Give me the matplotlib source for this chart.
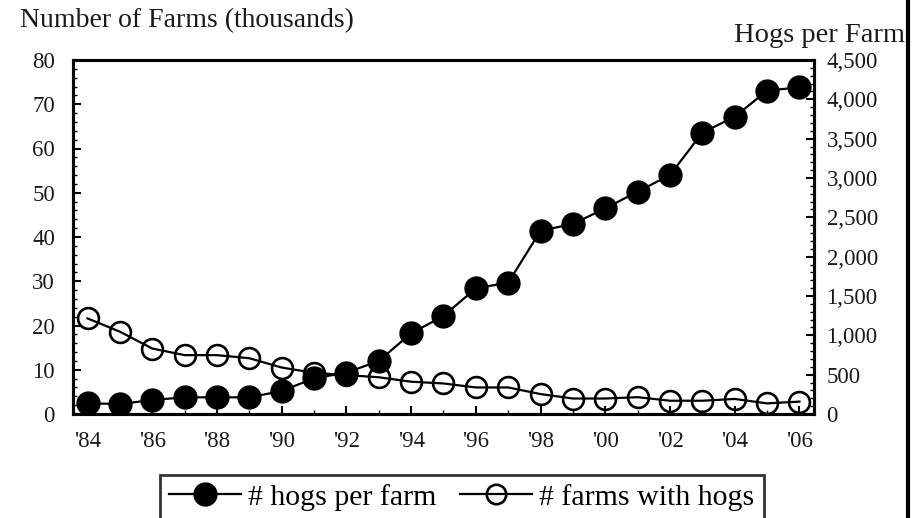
import matplotlib
matplotlib.use("Agg")
from matplotlib import pyplot as plt
from matplotlib.lines import Line2D
from matplotlib.ticker import MultipleLocator, FixedLocator

plt.rcParams['font.family'] = ['Liberation Serif', 'DejaVu Serif']

# data
years = [1984, 1985, 1986, 1987, 1988, 1989, 1990, 1991, 1992, 1993, 1994,
         1995, 1996, 1997, 1998, 1999, 2000, 2001, 2002, 2003, 2004, 2005, 2006]
hogs_per_farm = [136, 127, 178, 212, 212, 212, 292, 454, 525, 674, 1026,
                 1246, 1598, 1669, 2330, 2415, 2615, 2826, 3038, 3576, 3779, 4110, 4153]
farms_thousands = [21.6, 18.6, 14.8, 13.3, 13.3, 12.6, 10.5, 9.3, 8.8, 8.3, 7.3,
                   6.9, 6.0, 6.0, 4.5, 3.5, 3.5, 3.8, 3.0, 3.0, 3.4, 2.4, 2.8]
xtick_years = list(range(1984, 2007, 2))
xtick_labels = ["'84", "'86", "'88", "'90", "'92", "'94", "'96", "'98", "'00", "'02", "'04", "'06"]

W, H = 919, 518
fig = plt.figure(figsize=(W / 100, H / 100), dpi=100)
fig.patch.set_facecolor('white')

ax = fig.add_axes([73 / W, 1 - 414 / H, (814 - 73) / W, (414 - 60) / H])
ax2 = ax.twinx()

# farms with hogs (left axis), open circles the line runs through
ax.plot(years, farms_thousands, color='black', lw=1.6, marker='o', ms=15,
        mfc='none', mec='black', mew=1.9, zorder=3)
# hogs per farm (right axis)
ax2.plot(years, hogs_per_farm, color='black', lw=1.6, marker='o', ms=16.5,
         mfc='black', mec='black', zorder=3)

ax.set_xlim(1983.55, 2006.45)
ax.set_ylim(0, 80)
ax2.set_ylim(0, 4500)

ax.xaxis.set_major_locator(FixedLocator(xtick_years))
ax.set_xticklabels(xtick_labels)
ax.xaxis.set_minor_locator(MultipleLocator(1))
ax.yaxis.set_major_locator(MultipleLocator(10))
ax.yaxis.set_minor_locator(MultipleLocator(2))
ax2.yaxis.set_major_locator(MultipleLocator(500))
ax2.yaxis.set_minor_locator(MultipleLocator(100))
ax2.set_yticklabels([f"{int(v):,}" for v in ax2.get_yticks()])

tick_fs = 16.5
ax.tick_params(axis='x', which='major', direction='in', length=6, width=1.5,
               pad=12, labelsize=tick_fs, labelcolor='#1a1a1a', top=False)
ax.tick_params(axis='x', which='minor', direction='in', length=3, width=1, top=False)
ax.tick_params(axis='y', which='major', direction='in', length=6, width=1.5,
               pad=13, labelsize=tick_fs, labelcolor='#1a1a1a')
ax.tick_params(axis='y', which='minor', direction='in', length=3, width=1)
ax2.tick_params(axis='y', which='major', direction='in', length=6, width=1.5,
                pad=9, labelsize=tick_fs, labelcolor='#1a1a1a')
ax2.tick_params(axis='y', which='minor', direction='in', length=3, width=1)

for a in (ax, ax2):
    for s in a.spines.values():
        s.set_linewidth(2.2)
        s.set_color('black')

fig.text(20 / W, 1 - 21 / H, "Number of Farms (thousands)", fontsize=20,
         ha='left', va='center', color='#1a1a1a')
fig.text(905 / W, 1 - 36 / H, "Hogs per Farm", fontsize=20.5,
         ha='right', va='center', color='#1a1a1a')

# frame line on the right edge
fig.add_artist(Line2D([907.5 / W, 907.5 / W], [0, 1], color='black', lw=3))

h1 = Line2D([], [], color='black', lw=1.6, marker='o', ms=16.5, mfc='black', mec='black')
h2 = Line2D([], [], color='black', lw=1.6, marker='o', ms=14, mfc='none', mec='black', mew=1.9)
leg = fig.legend([h1, h2], ['# hogs per farm', '# farms with hogs'],
                 loc='upper left', bbox_to_anchor=(160 / W, 1 - 475 / H),
                 ncol=2, fontsize=21.5, frameon=True, fancybox=False,
                 handlelength=2.4, handletextpad=0.25, columnspacing=0.8,
                 borderpad=0.3, borderaxespad=0)
leg.get_frame().set_edgecolor('black')
leg.get_frame().set_linewidth(2)

fig.savefig('out.png', dpi=100)
